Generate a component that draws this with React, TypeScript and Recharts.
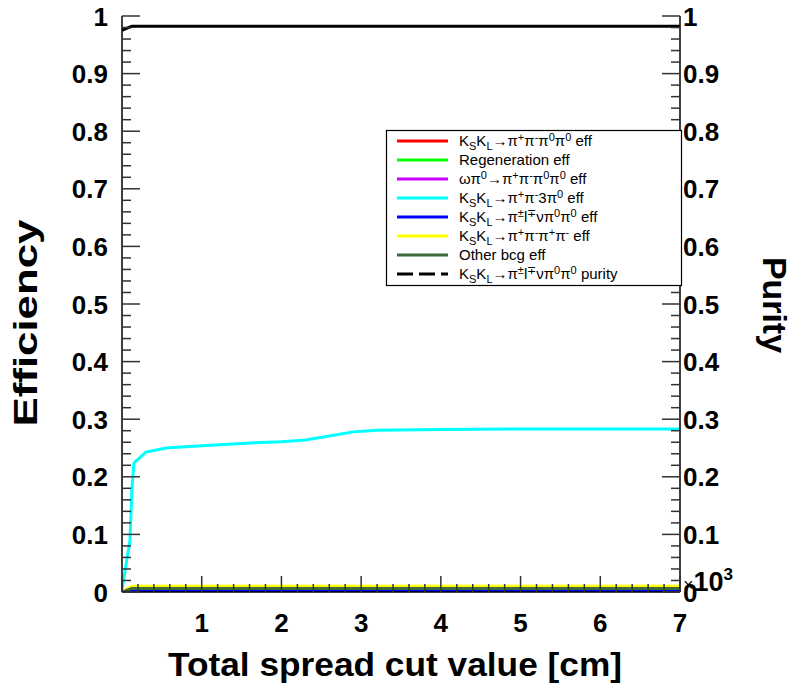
import React from "react";
import { ComposedChart, Line, XAxis, YAxis } from "recharts";

const F = "'Liberation Sans', Arial, Helvetica, sans-serif";

// x positions (total spread cut value, cm)
const cutValues = [0, 0.1, 0.125, 0.15, 0.3, 0.55, 1, 1.5, 2, 2.3, 2.6, 2.9, 3.2, 4, 5, 6, 7];
// efficiencies and purity
const effKsKl4pi = [0, 0.004, 0.004, 0.004, 0.004, 0.004, 0.004, 0.004, 0.004, 0.004, 0.004, 0.004, 0.004, 0.004, 0.004, 0.004, 0.004];
const effRegen = [0, 0.003, 0.003, 0.003, 0.003, 0.003, 0.003, 0.003, 0.003, 0.003, 0.003, 0.003, 0.003, 0.003, 0.003, 0.003, 0.003];
const effOmega = [0, 0.002, 0.002, 0.002, 0.002, 0.002, 0.002, 0.002, 0.002, 0.002, 0.002, 0.002, 0.002, 0.002, 0.002, 0.002, 0.002];
const effThreePi0 = [0.003, 0.09, 0.18, 0.224, 0.243, 0.25, 0.254, 0.258, 0.261, 0.264, 0.271, 0.278, 0.281, 0.282, 0.283, 0.283, 0.283];
const effSemilep = [0, 0.001, 0.001, 0.001, 0.001, 0.001, 0.001, 0.001, 0.001, 0.001, 0.001, 0.001, 0.001, 0.001, 0.001, 0.001, 0.001];
const effFourCharged = [0, 0.008, 0.009, 0.01, 0.01, 0.01, 0.01, 0.01, 0.01, 0.01, 0.01, 0.01, 0.01, 0.01, 0.01, 0.01, 0.01];
const effOther = [0, 0.005, 0.006, 0.006, 0.006, 0.006, 0.006, 0.006, 0.006, 0.006, 0.006, 0.006, 0.006, 0.006, 0.006, 0.006, 0.006];
const puritySemilep = [0.975, 0.981, 0.982, 0.982, 0.982, 0.982, 0.982, 0.982, 0.982, 0.982, 0.982, 0.982, 0.982, 0.982, 0.982, 0.982, 0.982];

const xMajorTicks = [0, 1, 2, 3, 4, 5, 6, 7];
const yMajorTicks = [0, 0.1, 0.2, 0.3, 0.4, 0.5, 0.6, 0.7, 0.8, 0.9, 1];

const withMinors = (majors: number[], n: number) => {
  const out: number[] = [];
  for (let i = 0; i < majors.length - 1; i++) {
    for (let k = 0; k < n; k++) out.push(+(majors[i] + (k * (majors[i + 1] - majors[i])) / n).toFixed(4));
  }
  out.push(majors[majors.length - 1]);
  return out;
};
const xTicks = withMinors(xMajorTicks, 5);
const yTicks = withMinors(yMajorTicks, 5);

const data = cutValues.map((x, i) => ({
  x,
  a: effKsKl4pi[i],
  b: effRegen[i],
  c: effOmega[i],
  d: effThreePi0[i],
  e: effSemilep[i],
  f: effFourCharged[i],
  g: effOther[i],
  p: puritySemilep[i],
}));

type Seg = { t: string; s?: "sub" | "sup" };
const KSKL: Seg[] = [{ t: "K" }, { t: "S", s: "sub" }, { t: "K" }, { t: "L", s: "sub" }, { t: "→π" }];

const series: { key: string; color: string; dash?: string; label: Seg[] }[] = [
  { key: "a", color: "#ff0000", label: [...KSKL, { t: "+", s: "sup" }, { t: "π" }, { t: "-", s: "sup" }, { t: "π" }, { t: "0", s: "sup" }, { t: "π" }, { t: "0", s: "sup" }, { t: " eff" }] },
  { key: "b", color: "#00ff00", label: [{ t: "Regeneration eff" }] },
  { key: "c", color: "#cc00ff", label: [{ t: "ωπ" }, { t: "0", s: "sup" }, { t: "→π" }, { t: "+", s: "sup" }, { t: "π" }, { t: "-", s: "sup" }, { t: "π" }, { t: "0", s: "sup" }, { t: "π" }, { t: "0", s: "sup" }, { t: " eff" }] },
  { key: "d", color: "#00ffff", label: [...KSKL, { t: "+", s: "sup" }, { t: "π" }, { t: "-", s: "sup" }, { t: "3π" }, { t: "0", s: "sup" }, { t: " eff" }] },
  { key: "e", color: "#0000ff", label: [...KSKL, { t: "±", s: "sup" }, { t: "l" }, { t: "∓", s: "sup" }, { t: "νπ" }, { t: "0", s: "sup" }, { t: "π" }, { t: "0", s: "sup" }, { t: " eff" }] },
  { key: "f", color: "#ffff00", label: [...KSKL, { t: "+", s: "sup" }, { t: "π" }, { t: "-", s: "sup" }, { t: "π" }, { t: "+", s: "sup" }, { t: "π" }, { t: "-", s: "sup" }, { t: " eff" }] },
  { key: "g", color: "#3a6b3a", label: [{ t: "Other bcg eff" }] },
  { key: "p", color: "#000000", dash: "16 6", label: [...KSKL, { t: "±", s: "sup" }, { t: "l" }, { t: "∓", s: "sup" }, { t: "νπ" }, { t: "0", s: "sup" }, { t: "π" }, { t: "0", s: "sup" }, { t: " purity" }] },
];

const TICK = "#333";
const T = 1.5; // tick thickness
const isMajor = (v: number, step: number) => Math.abs(v / step - Math.round(v / step)) < 1e-6;
const fmtY = (v: number) => (v === 0 ? "0" : v === 1 ? "1" : v.toFixed(1));

const renderLeftTick = (props: any) => {
  const { x, y, payload, index } = props;
  const v = payload.value;
  const m = isMajor(v, 0.1);
  return (
    <g key={`l${index}`}>
      <rect x={x} y={y - T / 2} width={m ? 18 : 9} height={T} fill={TICK} stroke="none" />
      {m && (
        <text x={x - 14} y={y + 9.5} textAnchor="end" fontSize={26} fontWeight="bold" fontFamily={F} fill="#000">
          {fmtY(v)}
        </text>
      )}
    </g>
  );
};

const renderRightTick = (props: any) => {
  const { x, y, payload, index } = props;
  const v = payload.value;
  const m = isMajor(v, 0.1);
  const len = m ? 18 : 9;
  return (
    <g key={`r${index}`}>
      <rect x={x - len} y={y - T / 2} width={len} height={T} fill={TICK} stroke="none" />
      {m && (
        <text x={x + 3} y={y + 9.5} textAnchor="start" fontSize={26} fontWeight="bold" fontFamily={F} fill="#000">
          {fmtY(v)}
        </text>
      )}
    </g>
  );
};

const renderBottomTick = (props: any) => {
  const { x, y, payload, index } = props;
  const v = payload.value;
  const m = isMajor(v, 1);
  const len = m ? 16 : 8;
  return (
    <g key={`b${index}`}>
      <rect x={x - T / 2} y={y - len} width={T} height={len} fill={TICK} stroke="none" />
      {m && v !== 0 && (
        <text x={x} y={y + 40} textAnchor="middle" fontSize={26} fontWeight="bold" fontFamily={F} fill="#000">
          {String(v)}
        </text>
      )}
    </g>
  );
};

const renderTopTick = (props: any) => {
  const { x, y, payload, index } = props;
  const m = isMajor(payload.value, 1);
  const len = m ? 16 : 8;
  return (
    <g key={`t${index}`}>
      <rect x={x - T / 2} y={y} width={T} height={len} fill={TICK} stroke="none" />
    </g>
  );
};

const RichText = ({ x, y, segs, size }: { x: number; y: number; segs: Seg[]; size: number }) => {
  let cur = 0;
  const small = Math.round(size * 0.7);
  return (
    <text x={x} y={y} fontSize={size} fontFamily={F} fill="#000">
      {segs.map((s, i) => {
        const target = s.s === "sub" ? 4 : s.s === "sup" ? -5 : 0;
        const dy = target - cur;
        cur = target;
        return (
          <tspan key={i} dy={dy} fontSize={s.s ? small : size}>
            {s.t}
          </tspan>
        );
      })}
    </text>
  );
};

const common = { type: "number" as const, interval: 0 as const, allowDataOverflow: true, tickSize: 0, tickMargin: 0, tickLine: false };

export default function App() {
  const rows = [141, 160, 179, 198, 217, 236, 255, 274];
  return (
    <div style={{ position: "absolute", left: 0, top: 0, width: 793, height: 689, background: "#fff" }}>
      <ComposedChart width={793} height={689} data={data} margin={{ top: 16, right: 0, bottom: 0, left: 0 }}>
        <XAxis xAxisId="b" dataKey="x" {...common} domain={[0, 7]} ticks={xTicks} height={97}
          axisLine={{ stroke: "#000", strokeWidth: 1.5 }} tick={renderBottomTick} />
        <XAxis xAxisId="t" orientation="top" dataKey="x" {...common} domain={[0, 7]} ticks={xTicks} height={0}
          axisLine={{ stroke: "#000", strokeWidth: 1.5 }} tick={renderTopTick} />
        <YAxis yAxisId="l" {...common} domain={[0, 1]} ticks={yTicks} width={122}
          axisLine={{ stroke: "#000", strokeWidth: 1.5 }} tick={renderLeftTick} />
        <YAxis yAxisId="r" orientation="right" {...common} domain={[0, 1]} ticks={yTicks} width={113}
          axisLine={{ stroke: "#000", strokeWidth: 1.5 }} tick={renderRightTick} />
        {series.map((s) => (
          <Line
            key={s.key}
            xAxisId="b"
            yAxisId="l"
            dataKey={s.key}
            type="linear"
            stroke={s.color}
            strokeWidth={3}
            dot={false}
            activeDot={false}
            isAnimationActive={false}
          />
        ))}
      </ComposedChart>
      <svg width={793} height={689} style={{ position: "absolute", left: 0, top: 0, pointerEvents: "none" }}>
        <text transform="translate(37,323) rotate(-90)" textAnchor="middle" fontSize={33} fontWeight="bold" fontFamily={F} fill="#000"
          textLength={207} lengthAdjust="spacingAndGlyphs">
          Efficiency
        </text>
        <text transform="translate(763,305) rotate(90)" textAnchor="middle" fontSize={33} fontWeight="bold" fontFamily={F} fill="#000"
          textLength={96} lengthAdjust="spacingAndGlyphs">
          Purity
        </text>
        <text x={395} y={676} textAnchor="middle" fontSize={33} fontWeight="bold" fontFamily={F} fill="#000"
          textLength={454} lengthAdjust="spacingAndGlyphs">
          Total spread cut value [cm]
        </text>
        <text x={683} y={591} fontFamily={F} fill="#000">
          <tspan fontSize={18}>×</tspan>
          <tspan fontSize={27} fontWeight="bold" dy={0}>10</tspan>
          <tspan fontSize={17} fontWeight="bold" dy={-11}>3</tspan>
        </text>
        <rect x={386.5} y={130.5} width={295} height={155} fill="#fff" stroke="#000" strokeWidth={1.2} />
        {series.map((s, i) => (
          <g key={s.key}>
            <line x1={397} x2={448} y1={rows[i]} y2={rows[i]} stroke={s.color} strokeWidth={3} strokeDasharray={s.dash} />
            <RichText x={459} y={rows[i] + 5} segs={s.label} size={15} />
          </g>
        ))}
      </svg>
    </div>
  );
}
